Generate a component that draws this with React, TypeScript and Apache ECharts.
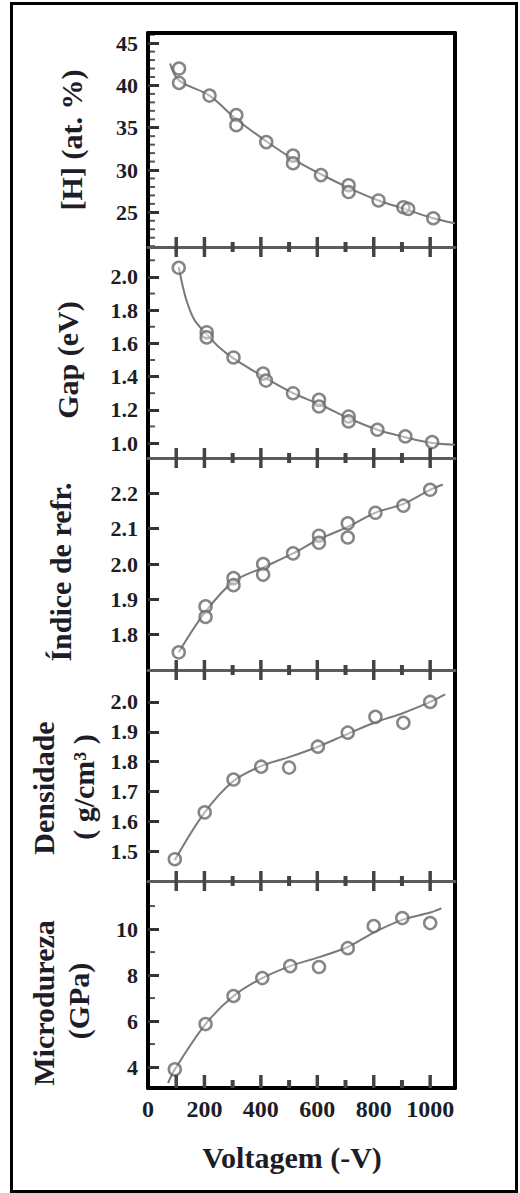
import React, { useEffect, useRef } from "react";
import * as echarts from "echarts";

// ---------- data ----------
const xTickLabels = [0, 200, 400, 600, 800, 1000];
const xLongTicks = [100, 200, 400, 600, 800, 1000];
const xShortTicks = [300, 500, 700, 900];

const hPoints = [[110, 42.0], [110, 40.3], [218, 38.8], [313, 36.5], [313, 35.3], [419, 33.3], [514, 31.7], [514, 30.8], [613, 29.4], [711, 28.2], [711, 27.4], [817, 26.4], [905, 25.6], [922, 25.4], [1011, 24.3]];
const hCurve = [[78, 42.6], [110, 40.6], [218, 38.8], [313, 36.0], [419, 33.4], [514, 31.3], [613, 29.5], [711, 27.9], [817, 26.4], [910, 25.4], [1011, 24.3], [1088, 23.7]];
const hTicks = [25, 30, 35, 40, 45];
const hMinor = [21, 22, 23, 24, 26, 27, 28, 29, 31, 32, 33, 34, 36, 37, 38, 39, 41, 42, 43, 44, 46];

const gapPoints = [[109, 2.055], [208, 1.667], [208, 1.636], [303, 1.515], [408, 1.418], [418, 1.376], [514, 1.30], [606, 1.26], [606, 1.22], [711, 1.16], [711, 1.13], [813, 1.08], [912, 1.04], [1007, 1.006]];
const gapCurve = [[109, 2.06], [125, 1.93], [140, 1.84], [165, 1.74], [208, 1.655], [250, 1.58], [303, 1.51], [408, 1.40], [514, 1.30], [606, 1.235], [711, 1.15], [813, 1.08], [912, 1.035], [1007, 1.0], [1088, 0.99]];
const gapTicks = [1.0, 1.2, 1.4, 1.6, 1.8, 2.0];
const gapMinor = [1.1, 1.3, 1.5, 1.7, 1.9, 2.1];

const refrPoints = [[109, 1.75], [204, 1.88], [204, 1.85], [303, 1.96], [303, 1.94], [408, 2.0], [408, 1.97], [514, 2.03], [606, 2.08], [606, 2.06], [708, 2.115], [708, 2.075], [806, 2.145], [905, 2.165], [1000, 2.21]];
const refrCurve = [[109, 1.75], [204, 1.865], [303, 1.95], [408, 1.99], [514, 2.03], [606, 2.07], [708, 2.105], [806, 2.145], [905, 2.17], [1000, 2.21], [1045, 2.225]];
const refrTicks = [1.8, 1.9, 2.0, 2.1, 2.2];
const refrMinor: number[] = [];

const densPoints = [[95, 1.473], [201, 1.63], [303, 1.74], [401, 1.783], [500, 1.78], [602, 1.85], [708, 1.897], [806, 1.95], [905, 1.93], [1000, 2.0]];
const densCurve = [[95, 1.47], [201, 1.63], [303, 1.735], [401, 1.785], [500, 1.815], [602, 1.85], [708, 1.893], [806, 1.932], [905, 1.963], [1000, 2.0], [1053, 2.025]];
const densTicks = [1.5, 1.6, 1.7, 1.8, 1.9, 2.0];
const densMinor: number[] = [];

const microPoints = [[95, 3.9], [204, 5.87], [303, 7.09], [405, 7.87], [504, 8.39], [606, 8.35], [708, 9.17], [800, 10.13], [901, 10.48], [1000, 10.26]];
const microCurve = [[71, 3.3], [95, 3.9], [204, 5.87], [303, 7.09], [405, 7.87], [504, 8.39], [606, 8.78], [708, 9.22], [800, 9.85], [901, 10.4], [1000, 10.72], [1040, 10.9]];
const microTicks = [4, 6, 8, 10];
const microMinor = [5, 7, 9, 11];

const titles = ["[H] (at. %)", "Gap (eV)", "Índice de refr.", "Densidade", "( g/cm³ )", "Microdureza", "(GPa)"];
const xTitle = "Voltagem (-V)";

// ---------- layout ----------
const GL = 148;
const GW = 307;
const XMAX = 1088;
const panelRects = [
  { top: 33, height: 214 },
  { top: 247, height: 211 },
  { top: 458, height: 212 },
  { top: 670, height: 211 },
  { top: 881, height: 207 },
];
const yRanges = [
  [20.9, 46.2],
  [0.91, 2.18],
  [1.70, 2.30],
  [1.40, 2.107],
  [3.09, 12.09],
];
const FONT = '"Liberation Serif", "Times New Roman", serif';
const TXT = "#1d1d28";

export default function App() {
  const ref = useRef<HTMLDivElement>(null);
  useEffect(() => {
    if (!ref.current) return;
    const chart = echarts.init(ref.current, undefined, { renderer: "svg" });

    const panels = [
      { pts: hPoints, curve: hCurve, ticks: hTicks, minor: hMinor, dec: 0 },
      { pts: gapPoints, curve: gapCurve, ticks: gapTicks, minor: gapMinor, dec: 1 },
      { pts: refrPoints, curve: refrCurve, ticks: refrTicks, minor: refrMinor, dec: 1 },
      { pts: densPoints, curve: densCurve, ticks: densTicks, minor: densMinor, dec: 1 },
      { pts: microPoints, curve: microCurve, ticks: microTicks, minor: microMinor, dec: 0 },
    ];

    const grid: any[] = panelRects.map((r) => ({ left: GL, width: GW, top: r.top, height: r.height }));
    const xAxis: any[] = [];
    const yAxis: any[] = [];
    const series: any[] = [];

    panelRects.forEach((_, i) => {
      const last = i === 4;
      xAxis.push({
        type: "value",
        gridIndex: i,
        position: "bottom",
        min: 0,
        max: XMAX,
        interval: 200,
        axisLine: { show: true, onZero: false, lineStyle: last ? { color: "#000", width: 4 } : { color: "#5c5c5c", width: 3 } },
        axisTick: { show: false },
        splitLine: { show: false },
        axisLabel: {
          show: last,
          showMaxLabel: false,
          margin: 9,
          fontFamily: FONT,
          fontWeight: "bold",
          fontSize: 24,
          color: TXT,
          formatter: (v: number) => (xTickLabels.indexOf(v) >= 0 ? String(v) : ""),
        },
      });
    });
    xAxis.push({
      type: "value",
      gridIndex: 0,
      position: "top",
      min: 0,
      max: XMAX,
      axisLine: { show: true, onZero: false, lineStyle: { color: "#000", width: 4 } },
      axisTick: { show: false },
      axisLabel: { show: false },
      splitLine: { show: false },
    });

    panels.forEach((p, i) => {
      yAxis.push({
        type: "value",
        gridIndex: i,
        position: "left",
        min: yRanges[i][0],
        max: yRanges[i][1],
        axisLine: { show: true, onZero: false, lineStyle: { color: "#000", width: 4 } },
        axisTick: { show: true, inside: true, length: 11, customValues: p.ticks, lineStyle: { color: "#333", width: 3 } },
        splitLine: { show: false },
        axisLabel: {
          show: true,
          customValues: p.ticks,
          margin: 10,
          fontFamily: FONT,
          fontWeight: "bold",
          fontSize: 22,
          color: TXT,
          formatter: (v: number) => v.toFixed(p.dec),
        },
      });
    });
    panels.forEach((_, i) => {
      yAxis.push({
        type: "value",
        gridIndex: i,
        position: "right",
        min: yRanges[i][0],
        max: yRanges[i][1],
        axisLine: { show: true, onZero: false, lineStyle: { color: "#000", width: 4 } },
        axisTick: { show: false },
        axisLabel: { show: false },
        splitLine: { show: false },
      });
    });

    const xTickSeries = (i: number) => {
      const last = i === 4;
      const y0 = yRanges[i][0];
      const data = [...xLongTicks.map((v) => [v, y0, 1]), ...xShortTicks.map((v) => [v, y0, 0])];
      return {
        type: "custom",
        xAxisIndex: i,
        yAxisIndex: i,
        silent: true,
        clip: false,
        z: 5,
        data,
        encode: { x: 0, y: 1 },
        renderItem: (params: any, api: any) => {
          const long = api.value(2) === 1;
          const p = api.coord([api.value(0), api.value(1)]);
          const up = last ? (long ? 13 : 8) : long ? 10 : 5;
          const down = last ? 0 : long ? 10 : 5;
          const w = long ? 3.5 : 4;
          return {
            type: "rect",
            shape: { x: p[0] - w / 2, y: p[1] - up, width: w, height: up + down },
            style: { fill: "#444" },
          };
        },
      };
    };

    panels.forEach((p, i) => {
      series.push({
        type: "line",
        xAxisIndex: i,
        yAxisIndex: i,
        data: p.curve,
        smooth: 0.35,
        symbol: "none",
        lineStyle: { color: "#7a7a7a", width: 2 },
        z: 2,
      });
      series.push({
        type: "scatter",
        xAxisIndex: i,
        yAxisIndex: i,
        data: p.pts,
        symbol: "circle",
        symbolSize: 12,
        itemStyle: { color: "rgba(255,255,255,0.55)", borderColor: "#686868", borderWidth: 2.5 },
        z: 3,
      });
      series.push(xTickSeries(i));
    });

    const tstyle = (text: string) => ({
      text,
      font: `bold 30px ${FONT}`,
      fill: TXT,
      align: "center",
      verticalAlign: "middle",
    });

    const baseGraphic: any[] = [
      { type: "text", x: 71, y: 140, rotation: Math.PI / 2, style: tstyle(titles[0]) },
      { type: "text", x: 67, y: 360, rotation: Math.PI / 2, style: tstyle(titles[1]) },
      { type: "text", x: 60, y: 572, rotation: Math.PI / 2, style: tstyle(titles[2]) },
      { type: "text", x: 43, y: 788, rotation: Math.PI / 2, style: tstyle(titles[3]) },
      { type: "text", x: 83, y: 787, rotation: Math.PI / 2, style: tstyle(titles[4]) },
      { type: "text", x: 43, y: 1003, rotation: Math.PI / 2, style: tstyle(titles[5]) },
      { type: "text", x: 78, y: 1001, rotation: Math.PI / 2, style: tstyle(titles[6]) },
      { type: "text", x: 292, y: 1157, style: tstyle(xTitle) },
    ];

    chart.setOption({
      animation: false,
      grid,
      xAxis,
      yAxis,
      series,
      graphic: baseGraphic,
    });

    const tickRects: any[] = [];
    panels.forEach((p, i) => {
      p.minor.forEach((v) => {
        const pt = chart.convertToPixel({ xAxisIndex: i, yAxisIndex: i } as any, [0, v]) as any;
        if (!pt) return;
        tickRects.push({
          type: "rect",
          silent: true,
          shape: { x: pt[0], y: pt[1] - 1, width: 7, height: 2 },
          style: { fill: "#555" },
        });
      });
    });
    chart.setOption({ graphic: [...baseGraphic, ...tickRects] });

    return () => chart.dispose();
  }, []);

  return (
    <div style={{ position: "absolute", left: 0, top: 0, width: 520, height: 1193, background: "#fff" }}>
      <div style={{ position: "absolute", left: 10, top: 2, width: 508, height: 1191, border: "3px solid #000", boxSizing: "border-box" }} />
      <div ref={ref} style={{ position: "absolute", left: 0, top: 0, width: 520, height: 1193 }} />
    </div>
  );
}
